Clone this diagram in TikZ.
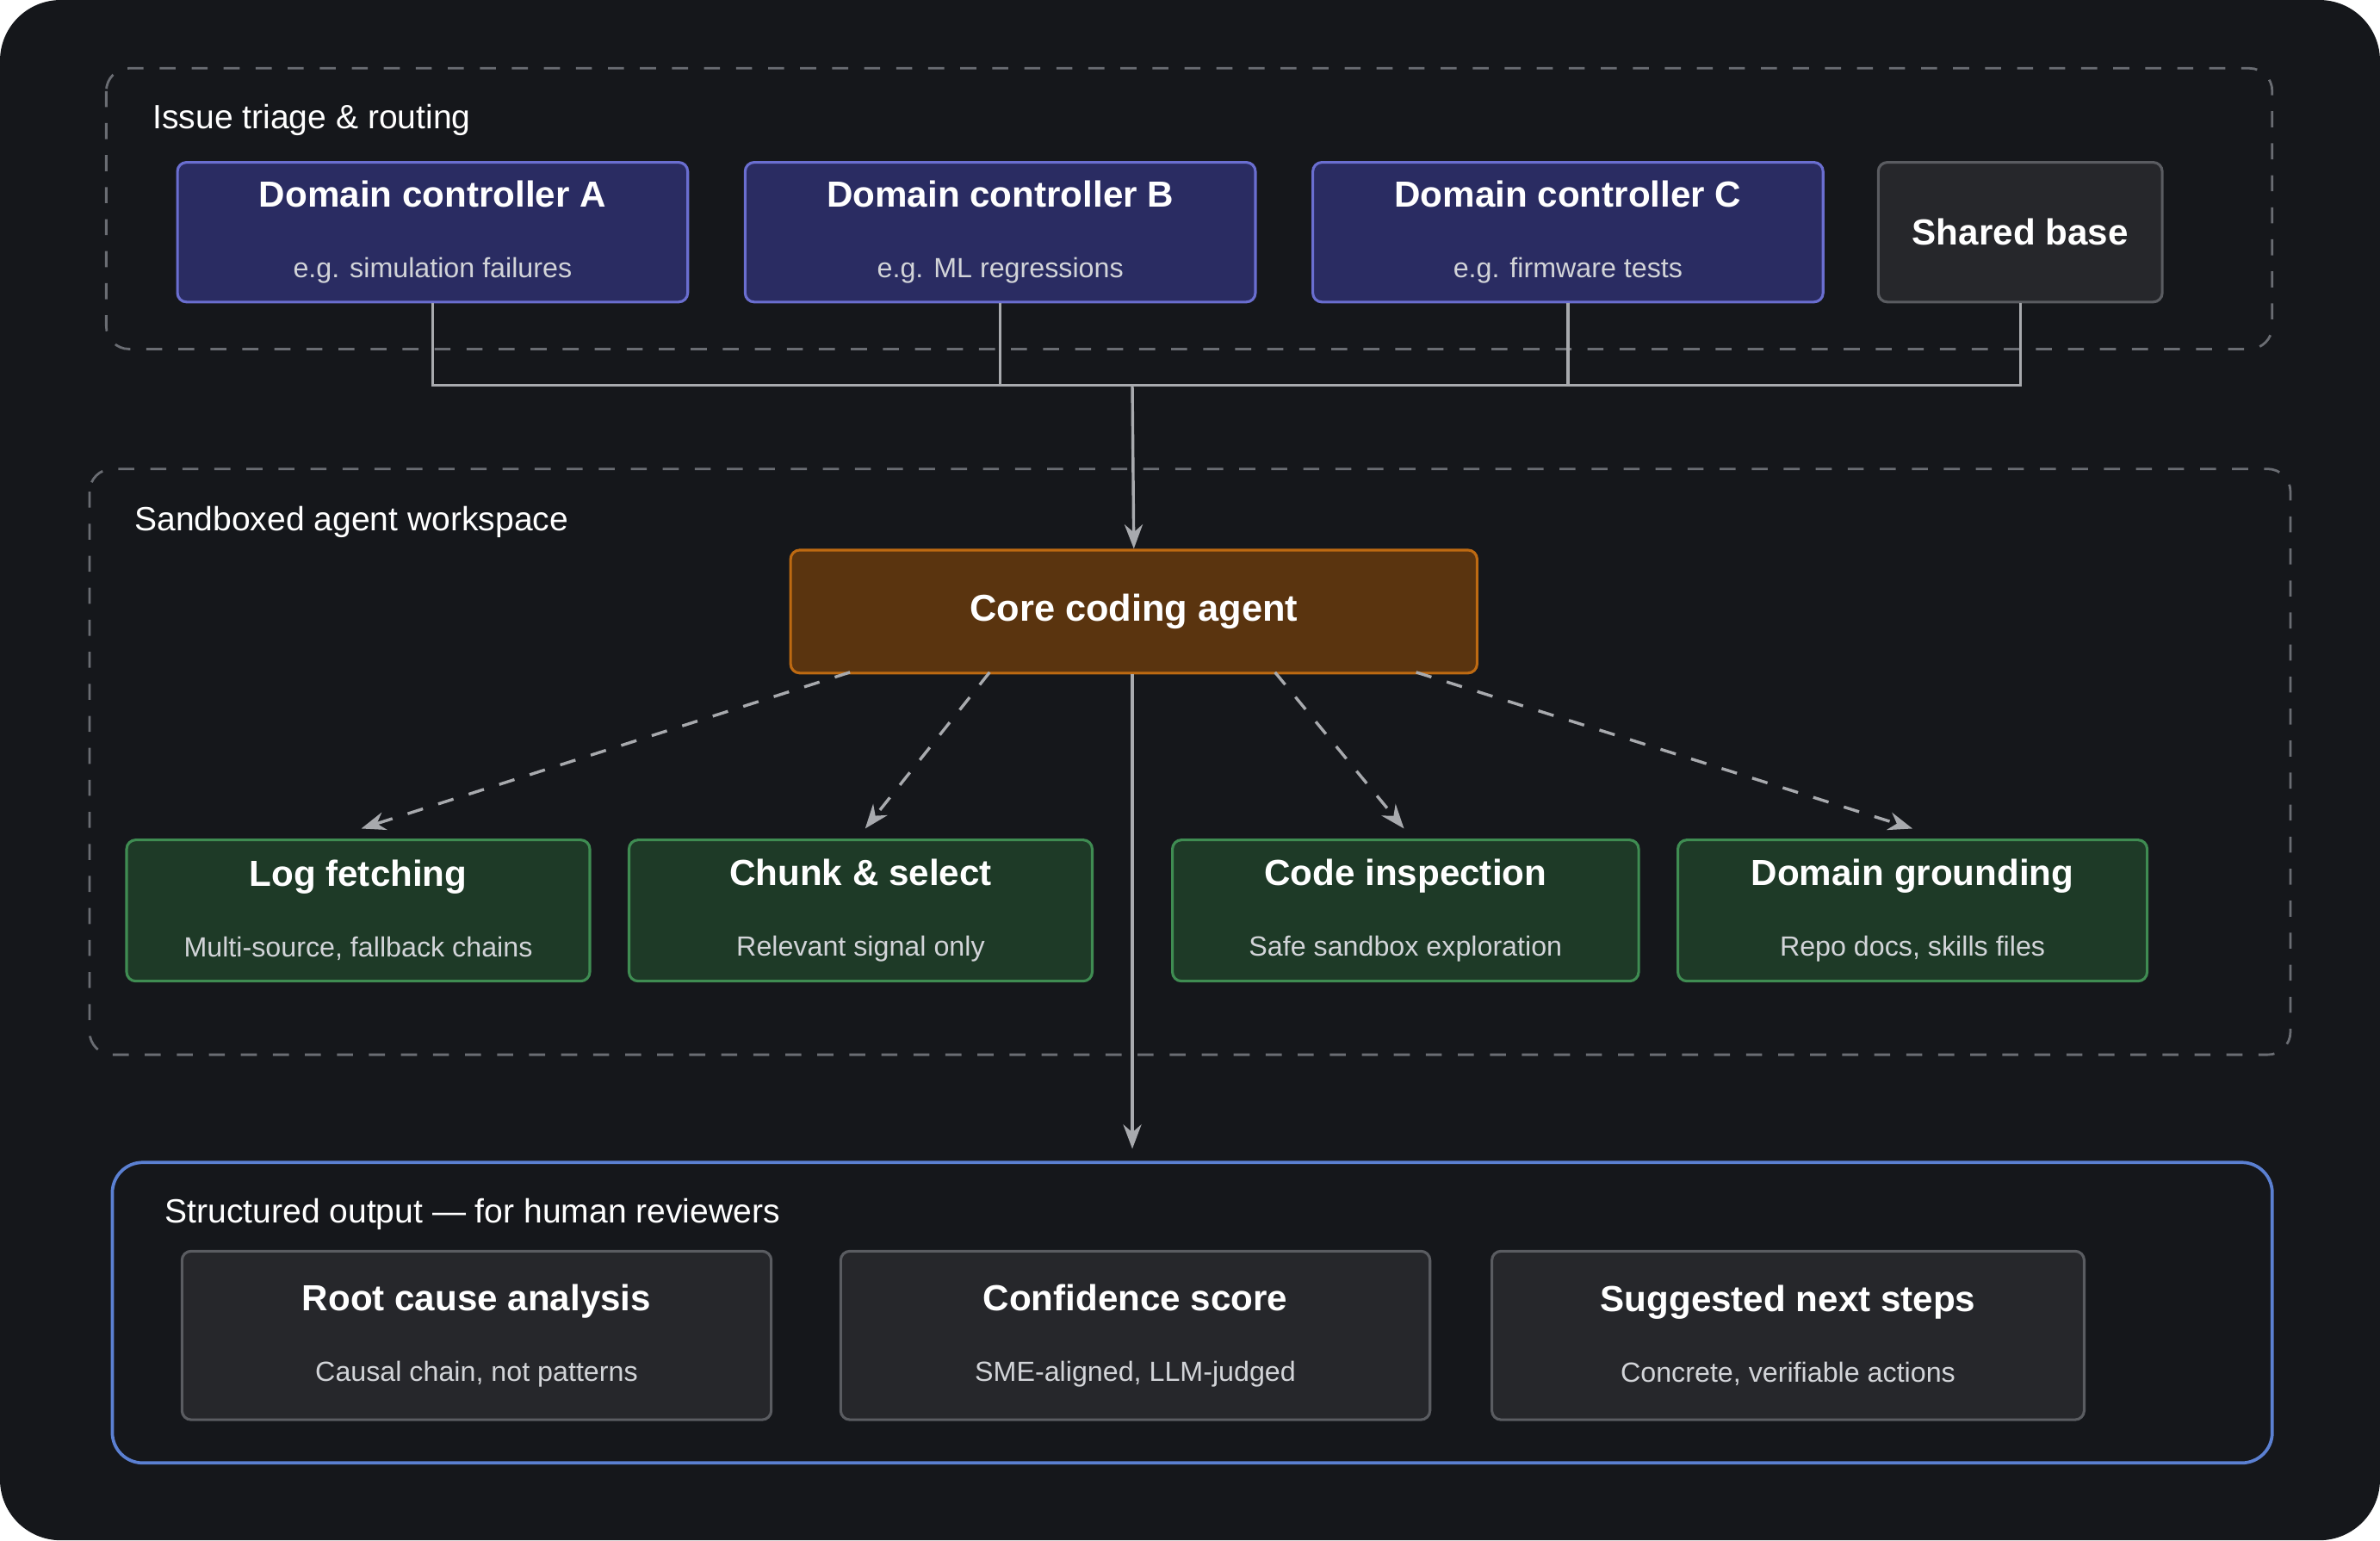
\documentclass[tikz,border=0pt]{standalone}
\usepackage{fontspec}
\setmainfont{Liberation Sans}
\usetikzlibrary{arrows.meta}
\definecolor{bgdark}{HTML}{15171B}
\definecolor{frame}{HTML}{6A6D73}
\definecolor{indfill}{HTML}{2A2C62}
\definecolor{inddraw}{HTML}{6A6ED0}
\definecolor{grfill}{HTML}{1E3A27}
\definecolor{grdraw}{HTML}{3F8C52}
\definecolor{gyfill}{HTML}{26272B}
\definecolor{gydraw}{HTML}{5A5C61}
\definecolor{brfill}{HTML}{5A340F}
\definecolor{brdraw}{HTML}{BE6A12}
\definecolor{outdraw}{HTML}{5B80D2}
\definecolor{subtxt}{HTML}{D2D4D8}
\definecolor{wire}{HTML}{A8AAAE}
\newcommand{\ttlfont}{\fontsize{6.8}{8}\selectfont\bfseries}
\newcommand{\subfont}{\fontsize{5.2}{6}\selectfont\color{subtxt}}
\newcommand{\boxtext}[2]{{\ttlfont #1}\\[1.2pt]{\subfont #2}}
\tikzset{
  card/.style={rectangle, rounded corners=0.6mm, line width=0.5pt, text=white, align=center, inner sep=0pt},
  ctrlbox/.style={card, fill=indfill, draw=inddraw, minimum width=3.36cm, minimum height=0.92cm},
  sharedbox/.style={card, fill=gyfill, draw=gydraw, minimum width=1.87cm, minimum height=0.92cm},
  agentbox/.style={card, fill=brfill, draw=brdraw, minimum width=4.52cm, minimum height=0.81cm},
  toolbox/.style={card, fill=grfill, draw=grdraw, minimum height=0.93cm},
  outbox/.style={card, fill=gyfill, draw=gydraw, minimum width=3.88cm, minimum height=1.11cm},
  zone/.style={draw=frame, dashed, line width=0.45pt, rounded corners=1.5mm},
  zonelabel/.style={anchor=west, text=white, font=\fontsize{6.3}{7}\selectfont, inner sep=0pt},
  wire/.style={draw=wire, line width=0.55pt},
  arr/.style={wire, -{Stealth[length=1.6mm,width=1.2mm]}}
}
\begin{document}
\begin{tikzpicture}[x=0.01cm,y=-0.01cm]
\fill[white] (0,0) rectangle (1568,1015);
\fill[bgdark, rounded corners=4mm] (0,0) rectangle (1568,1015);
\useasboundingbox (0,0) rectangle (1568,1015);

% zones
\draw[zone] (70,45) rectangle (1497,230);
\node[zonelabel] (lbltriage) at (100,79) {Issue triage \& routing};
\draw[zone] (59,309) rectangle (1509,695);
\node[zonelabel] (lblsandbox) at (88,344) {Sandboxed agent workspace};
\draw[draw=outdraw, line width=0.6pt, rounded corners=2mm] (74,766) rectangle (1497,964);
\node[zonelabel] (lbloutput) at (108,800) {Structured output --- for human reviewers};

% controllers
\node[ctrlbox] (ctrlA) at (285,153) {\boxtext{Domain controller A}{e.g. simulation failures}};
\node[ctrlbox] (ctrlB) at (659,153) {\boxtext{Domain controller B}{e.g. ML regressions}};
\node[ctrlbox] (ctrlC) at (1033,153) {\boxtext{Domain controller C}{e.g. firmware tests}};
\node[sharedbox] (base) at (1331,153) {\ttlfont Shared base};

% agent and tools
\node[agentbox] (core) at (747,403) {\fontsize{7}{8}\selectfont\bfseries Core coding agent};
\node[toolbox, minimum width=3.05cm] (logs) at (236,600) {\boxtext{Log fetching}{Multi-source, fallback chains}};
\node[toolbox, minimum width=3.05cm] (chunk) at (567,600) {\boxtext{Chunk \& select}{Relevant signal only}};
\node[toolbox, minimum width=3.07cm] (inspect) at (926,600) {\boxtext{Code inspection}{Safe sandbox exploration}};
\node[toolbox, minimum width=3.09cm] (ground) at (1260,600) {\boxtext{Domain grounding}{Repo docs, skills files}};

% outputs
\node[outbox] (rootcause) at (314,880) {\boxtext{Root cause analysis}{Causal chain, not patterns}};
\node[outbox] (confidence) at (748,880) {\boxtext{Confidence score}{SME-aligned, LLM-judged}};
\node[outbox, minimum width=3.9cm] (nextsteps) at (1178,880) {\boxtext{Suggested next steps}{Concrete, verifiable actions}};

% routing bus
\coordinate (bus) at (746,254);
\draw[wire] (ctrlA.south) |- (base.south |- bus) -- (base.south);
\draw[wire] (ctrlB.south) -- (ctrlB.south |- bus);
\draw[wire] (ctrlC.south) -- (ctrlC.south |- bus);
\draw[arr] (bus) -- (core.north);

% tool calls
\coordinate (outA) at (560,443);
\coordinate (outB) at (652,443);
\coordinate (outC) at (840,443);
\coordinate (outD) at (933,443);
\coordinate (inA) at (238,546);
\coordinate (inB) at (570,546);
\coordinate (inC) at (925,546);
\coordinate (inD) at (1260,546);
\draw[arr, dashed] (outA) -- (inA);
\draw[arr, dashed] (outB) -- (inB);
\draw[arr, dashed] (outC) -- (inC);
\draw[arr, dashed] (outD) -- (inD);

% to outputs
\coordinate (outtop) at (746,757);
\draw[arr] (core.south -| outtop) -- (outtop);
\end{tikzpicture}
\end{document}
